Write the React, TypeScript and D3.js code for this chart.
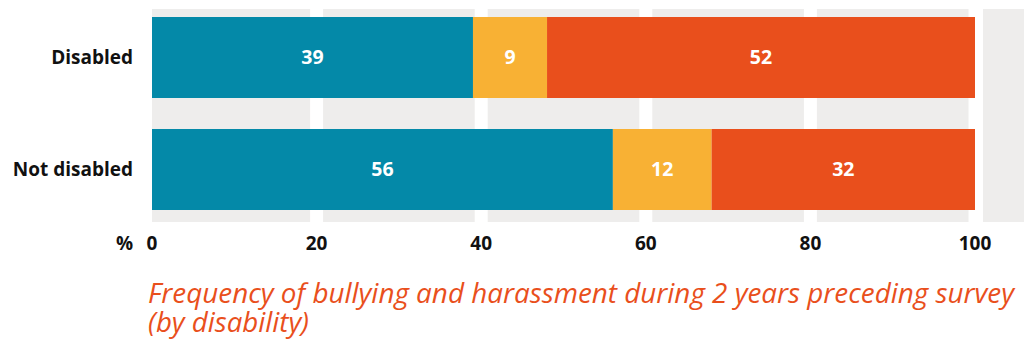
import React from "react";
import * as d3 from "d3";

const categories = ["Disabled", "Not disabled"];
const seriesNames = ["Often", "Sometimes", "Never"];
const seriesA = [39, 56];
const seriesB = [9, 12];
const seriesC = [52, 32];
const tickValues = [0, 20, 40, 60, 80, 100];
const titleLines = [
  "Frequency of bullying and harassment during 2 years preceding survey",
  "(by disability)",
];
const colors = ["#0489A8", "#F8B134", "#E94F1C"];

const W = 1024;
const H = 358;
const FONT = "'Open Sans', 'Noto Sans', sans-serif";

export default function App() {
  const x = d3.scaleLinear().domain([0, 100]).range([152, 975]);
  const y = d3.scaleBand<string>().domain(categories).range([17, 210]).paddingInner(31 / 112);
  const series = [seriesA, seriesB, seriesC];
  const rows = categories.map((c, i) => ({ cat: c, vals: series.map((s) => s[i]) }));
  const stack = d3
    .stack<any>()
    .keys(seriesNames)
    .value((d: any, k: string) => d.vals[seriesNames.indexOf(k)]);
  const stacked = stack(rows as any);
  const gap = 6.5;
  const bandTop = 9;
  const bandBottom = 222;
  const bands: [number, number][] = [];
  for (let i = 0; i < tickValues.length - 1; i++) {
    const l = i === 0 ? x(tickValues[i]) : x(tickValues[i]) + gap;
    const r = x(tickValues[i + 1]) - gap;
    bands.push([l, r]);
  }
  bands.push([x(100) + 8, W]);

  return (
    <svg width={W} height={H} style={{ position: "absolute", left: 0, top: 0 }} fontFamily={FONT}>
      <rect width={W} height={H} fill="#fff" />
      {bands.map(([l, r], i) => (
        <rect key={i} x={l} y={bandTop} width={r - l} height={bandBottom - bandTop} fill="#EEEDEC" />
      ))}
      {stacked.map((layer, si) => (
        <g key={si}>
          {layer.map((d: any, i: number) => (
            <g key={i}>
              <rect
                x={x(d[0])}
                y={y(categories[i])!}
                width={x(d[1]) - x(d[0])}
                height={y.bandwidth()}
                fill={colors[si]}
              />
              <text
                x={(x(d[0]) + x(d[1])) / 2}
                y={y(categories[i])! + y.bandwidth() / 2}
                dy="0.35em"
                textAnchor="middle"
                fill="#fff"
                fontWeight="bold"
                fontSize={19.5}
              >
                {series[si][i]}
              </text>
            </g>
          ))}
        </g>
      ))}
      {categories.map((c) => (
        <text
          key={c}
          x={133}
          y={y(c)! + y.bandwidth() / 2}
          dy="0.35em"
          textAnchor="end"
          fontWeight="bold"
          fontSize={19}
          fill="#111"
        >
          {c}
        </text>
      ))}
      <text x={133} y={243} dy="0.35em" textAnchor="end" fontWeight="bold" fontSize={19} fill="#111">
        %
      </text>
      {tickValues.map((t) => (
        <text key={t} x={x(t)} y={243} dy="0.35em" textAnchor="middle" fontWeight="bold" fontSize={19} fill="#111">
          {t}
        </text>
      ))}
      <text x={148} y={303} fontStyle="italic" fontWeight={500} fontSize={27} fill="#E94F1C" textLength={866} lengthAdjust="spacingAndGlyphs">
        {titleLines[0]}
      </text>
      <text x={148} y={332} fontStyle="italic" fontWeight={500} fontSize={27} fill="#E94F1C" textLength={161} lengthAdjust="spacingAndGlyphs">
        {titleLines[1]}
      </text>
    </svg>
  );
}
